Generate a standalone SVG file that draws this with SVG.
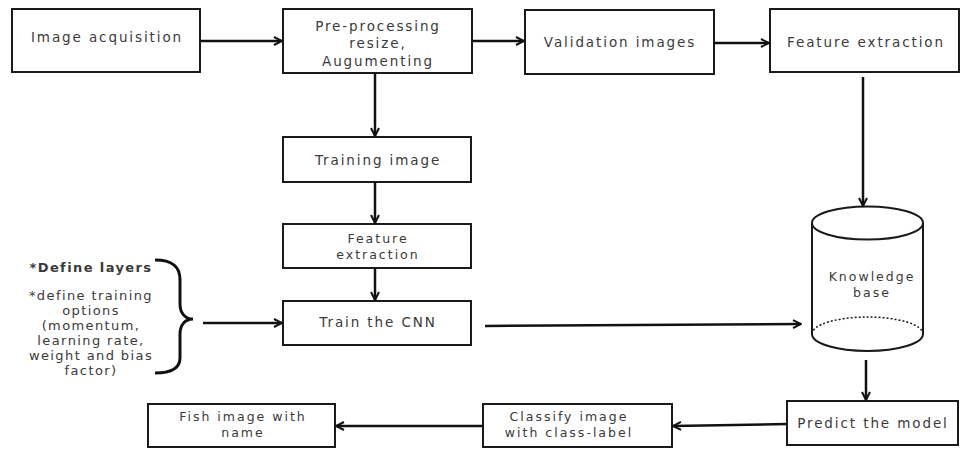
<svg xmlns="http://www.w3.org/2000/svg" width="964" height="449" viewBox="0 0 964 449">
<defs>
<style>
.box{fill:#fff;stroke:#1a1a1a;stroke-width:2}
.lbl{font-family:"DejaVu Sans",sans-serif;font-size:13.5px;letter-spacing:1.9px;fill:#3a3a3a;text-anchor:middle}
.sm{font-size:12.5px;letter-spacing:2px}
.side{font-family:"DejaVu Sans",sans-serif;font-size:13px;letter-spacing:1.4px;fill:#3a3a3a;text-anchor:middle}
.con{fill:none;stroke:#111;stroke-width:2.5}
</style>
<marker id="ah" viewBox="0 0 10 10" refX="9" refY="5" markerWidth="10" markerHeight="10" markerUnits="userSpaceOnUse" orient="auto">
<path d="M1,1 L9,5 L1,9" fill="none" stroke="#111" stroke-width="2"/>
</marker>
</defs>
<rect width="964" height="449" fill="#fff"/>

<g id="image-acquisition">
<rect class="box" x="12" y="9" width="188" height="63"/>
<text class="lbl" x="107" y="42">Image acquisition</text>
</g>
<g id="pre-processing">
<rect class="box" x="283" y="9" width="189" height="64"/>
<text class="lbl" x="378" y="31">Pre-processing</text>
<text class="lbl" x="378" y="48">resize,</text>
<text class="lbl" x="378" y="66">Augumenting</text>
</g>
<g id="validation-images">
<rect class="box" x="525" y="10" width="189" height="64"/>
<text class="lbl" x="620" y="47">Validation images</text>
</g>
<g id="feature-extraction-top">
<rect class="box" x="770" y="9" width="189" height="63"/>
<text class="lbl" x="866" y="47">Feature extraction</text>
</g>
<g id="training-image">
<rect class="box" x="283" y="137" width="188" height="45"/>
<text class="lbl" x="378" y="165">Training image</text>
</g>
<g id="feature-extraction">
<rect class="box" x="283" y="224" width="188" height="44"/>
<text class="lbl sm" x="378" y="243">Feature</text>
<text class="lbl sm" x="378" y="259">extraction</text>
</g>
<g id="train-cnn">
<rect class="box" x="283" y="301" width="188" height="44"/>
<text class="lbl" x="378" y="327">Train the CNN</text>
</g>
<g id="knowledge-base">
<path class="box" d="M812,223 L812,334 A55.5,17 0 0 0 923,334 L923,223"/>
<ellipse class="box" cx="867.5" cy="223" rx="55.5" ry="16.5"/>
<path d="M812,334 A55.5,17 0 0 1 923,334" fill="none" stroke="#1a1a1a" stroke-width="1.5" stroke-dasharray="2,2"/>
<text class="lbl sm" x="872" y="281">Knowledge</text>
<text class="lbl sm" x="872" y="297">base</text>
</g>
<g id="predict-model">
<rect class="box" x="787" y="401" width="171" height="44"/>
<text class="lbl" x="873" y="428">Predict the model</text>
</g>
<g id="classify-image">
<rect class="box" x="483" y="404" width="189" height="43"/>
<text class="lbl sm" x="569" y="421">Classify image</text>
<text class="lbl sm" x="569" y="437">with class-label</text>
</g>
<g id="fish-image">
<rect class="box" x="148" y="404" width="187" height="43"/>
<text class="lbl sm" x="243" y="421">Fish image with</text>
<text class="lbl sm" x="243" y="437">name</text>
</g>
<g id="training-options">
<text class="side" x="91" y="272" font-weight="bold" letter-spacing="0.6">*Define layers</text>
<text class="side" x="91" y="300">*define training</text>
<text class="side" x="91" y="315">options</text>
<text class="side" x="91" y="330">(momentum,</text>
<text class="side" x="91" y="345">learning rate,</text>
<text class="side" x="91" y="360">weight and bias</text>
<text class="side" x="91" y="375">factor)</text>
<path d="M155,260 C172,260 180,266 180,280 L180,304 C180,313 185,319 193,319 C185,319 180,325 180,334 L180,358 C180,368 172,373 155,373" fill="none" stroke="#111" stroke-width="3"/>
</g>

<g id="connectors">
<path class="con" marker-end="url(#ah)" d="M200,41 L282,41"/>
<path class="con" marker-end="url(#ah)" d="M472,41 L524,41"/>
<path class="con" marker-end="url(#ah)" d="M714,43 L769,43"/>
<path class="con" marker-end="url(#ah)" d="M375,73 L375,136"/>
<path class="con" marker-end="url(#ah)" d="M375,182 L375,223"/>
<path class="con" marker-end="url(#ah)" d="M375,268 L375,300"/>
<path class="con" marker-end="url(#ah)" d="M203,323 L282,323"/>
<path class="con" marker-end="url(#ah)" d="M485,326 L801,324"/>
<path class="con" marker-end="url(#ah)" d="M863,77 L863,206"/>
<path class="con" marker-end="url(#ah)" d="M866,360 L866,400"/>
<path class="con" marker-end="url(#ah)" d="M787,424 L673,426"/>
<path class="con" marker-end="url(#ah)" d="M483,426 L336,426"/>
</g>
</svg>
